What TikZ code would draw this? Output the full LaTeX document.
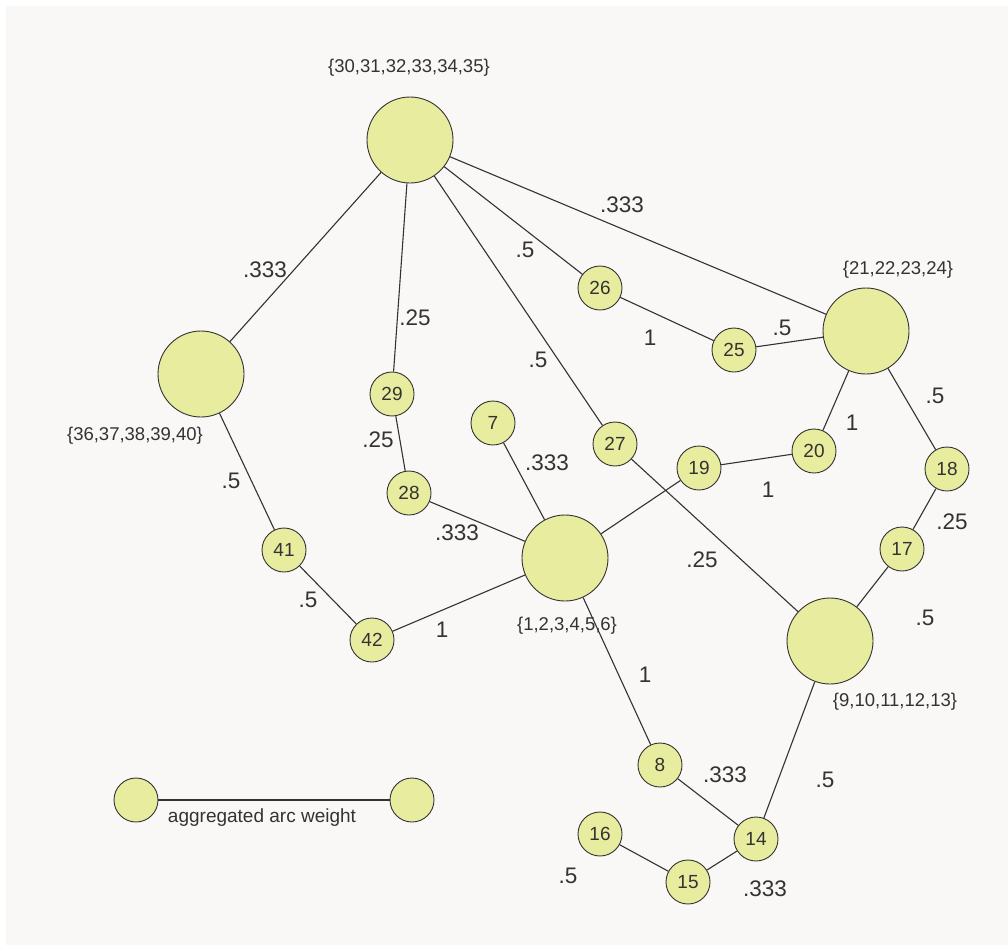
\documentclass[tikz,border=0pt]{standalone}
\usepackage{fontspec}
\setmainfont{Liberation Sans}
\begin{document}
\definecolor{paper}{HTML}{F9F8F6}
\definecolor{nodefill}{HTML}{E8EC9E}
\definecolor{ink}{HTML}{333333}
\begin{tikzpicture}[x=1pt,y=-1pt,
  every node/.style={text=ink},
  big/.style={circle,draw=ink,fill=nodefill,line width=0.9pt,minimum size=86pt,inner sep=0pt},
  small/.style={circle,draw=ink,fill=nodefill,line width=0.9pt,minimum size=44pt,inner sep=0pt,font=\fontsize{19}{19}\selectfont},
  weight/.style={inner sep=0pt,font=\fontsize{22.5}{22.5}\selectfont},
  setlabel/.style={inner sep=0pt,font=\fontsize{18.5}{18.5}\selectfont},
  arc/.style={draw=ink,line width=1.1pt}]
% page and backdrop
\useasboundingbox (0,0) rectangle (1008,945);
\fill[white] (0,0) rectangle (1008,945);
\fill[paper] (6,6) rectangle (1008,945);

% aggregated nodes
\node[big] (A) at (410,140) {};
\node[big] (B) at (201,374) {};
\node[big] (C) at (565,558) {};
\node[big] (D) at (830,641) {};
\node[big] (E) at (866,331) {};

% single nodes
\node[small] (n26) at (600,288) {26};
\node[small] (n25) at (734,350) {25};
\node[small] (n29) at (392,394) {29};
\node[small] (n7)  at (493,423) {7};
\node[small] (n27) at (615,444) {27};
\node[small] (n19) at (699,468) {19};
\node[small] (n20) at (814,451) {20};
\node[small] (n18) at (947,469) {18};
\node[small] (n28) at (409,493) {28};
\node[small] (n17) at (902,549) {17};
\node[small] (n41) at (284,550) {41};
\node[small] (n42) at (372,640) {42};
\node[small] (n8)  at (660,765) {8};
\node[small] (n14) at (756,839) {14};
\node[small] (n16) at (600,834) {16};
\node[small] (n15) at (688,882) {15};

% legend
\node[small] (la) at (136,800) {};
\node[small] (lb) at (412,800) {};
\node[setlabel,font=\fontsize{19}{19}\selectfont] (lt) at (262,818) {aggregated arc weight};

% arcs
\path[arc] (A) -- (B);
\path[arc] (A) -- (n29);
\path[arc] (A) -- (n26);
\path[arc] (A) -- (n27);
\path[arc] (A) -- (E);
\path[arc] (n26) -- (n25);
\path[arc] (n25) -- (E);
\path[arc] (E) -- (n20);
\path[arc] (E) -- (n18);
\path[arc] (n20) -- (n19);
\path[arc] (n19) -- (C);
\path[arc] (n29) -- (n28);
\path[arc] (n28) -- (C);
\path[arc] (n7) -- (C);
\path[arc] (n27) -- (D);
\path[arc] (n18) -- (n17);
\path[arc] (n17) -- (D);
\path[arc] (B) -- (n41);
\path[arc] (n41) -- (n42);
\path[arc] (n42) -- (C);
\path[arc] (C) -- (n8);
\path[arc] (n8) -- (n14);
\path[arc] (D) -- (n14);
\path[arc] (n14) -- (n15);
\path[arc] (n15) -- (n16);
\path[arc] (la) -- (lb);

% set labels of aggregated nodes
\node[setlabel] (sA) at (409,68)  {\{30,31,32,33,34,35\}};
\node[setlabel] (sB) at (135,436) {\{36,37,38,39,40\}};
\node[setlabel] (sC) at (567,626) {\{1,2,3,4,5,6\}};
\node[setlabel] (sD) at (895,702) {\{9,10,11,12,13\}};
\node[setlabel] (sE) at (898,270) {\{21,22,23,24\}};

% arc weights
\node[weight] (wAB)   at (265,270) {.333};
\node[weight] (wA29)  at (415,318) {.25};
\node[weight] (wA26)  at (525,250) {.5};
\node[weight] (wA27)  at (538,360) {.5};
\node[weight] (wAE)   at (622,205) {.333};
\node[weight] (w2625) at (650,338) {1};
\node[weight] (w25E)  at (782,328) {.5};
\node[weight] (wE20)  at (852,423) {1};
\node[weight] (wE18)  at (935,396) {.5};
\node[weight] (w2019) at (768,490) {1};
\node[weight] (w2928) at (378,440) {.25};
\node[weight] (w7C)   at (547,463) {.333};
\node[weight] (w28C)  at (457,533) {.333};
\node[weight] (w27D)  at (702,560) {.25};
\node[weight] (w1817) at (952,522) {.25};
\node[weight] (w17D)  at (925,618) {.5};
\node[weight] (wB41)  at (231,481) {.5};
\node[weight] (w4142) at (308,600) {.5};
\node[weight] (w42C)  at (442,630) {1};
\node[weight] (wC8)   at (645,675) {1};
\node[weight] (w814)  at (725,775) {.333};
\node[weight] (wD14)  at (825,780) {.5};
\node[weight] (w1415) at (765,889) {.333};
\node[weight] (w1516) at (568,876) {.5};
\end{tikzpicture}
\end{document}
